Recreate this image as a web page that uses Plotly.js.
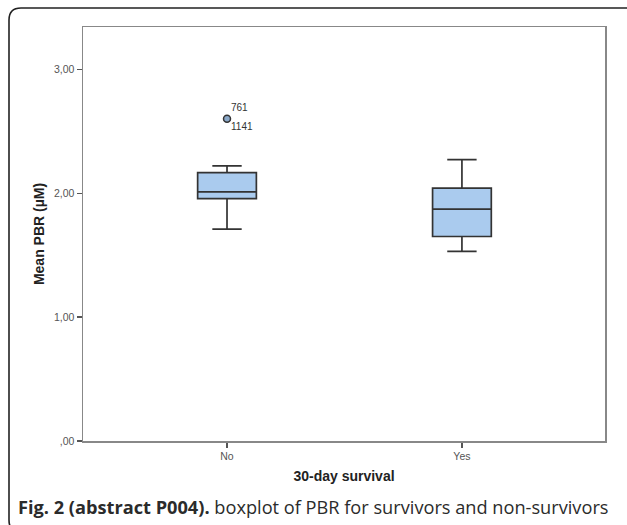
<!DOCTYPE html>
<html>
<head>
<meta charset="utf-8">
<script src="https://cdn.plot.ly/plotly-3.0.1.min.js"></script>
<style>html,body{margin:0;padding:0;background:#fff;}#chart{width:627px;height:525px;}</style>
</head>
<body>
<div id="chart"></div>
<script>
// ---- data ----
const categories = ['No', 'Yes'];
const lowerWhisker = [1.71, 1.53];
const q1 = [1.955, 1.65];
const median = [2.01, 1.87];
const q3 = [2.165, 2.04];
const upperWhisker = [2.22, 2.27];
const outlierCategory = 'No';
const outlierValue = 2.60;
const outlierIds = ['761', '1141'];
const yTickVals = [0, 1, 2, 3];
const yTickText = [',00', '1,00', '2,00', '3,00'];

// ---- layout geometry ----
const W = 627, H = 525;
const M = {l: 83, r: 22, t: 27, b: 84};
const pw = W - M.l - M.r, ph = H - M.t - M.b;
const px = x => (x - M.l) / pw;          // pixel -> paper x
const py = y => (H - M.b - y) / ph;      // pixel -> paper y

const xpos = categories.map((c, i) => i);

// outer rounded frame (path in paper coordinates)
const L = 9, T = 8, R = 640, B = 532, rad = 12;
const framePath =
  `M ${px(L)},${py(B - rad)} L ${px(L)},${py(T + rad)} Q ${px(L)},${py(T)} ${px(L + rad)},${py(T)} ` +
  `L ${px(R - rad)},${py(T)} Q ${px(R)},${py(T)} ${px(R)},${py(T + rad)} ` +
  `L ${px(R)},${py(B - rad)} Q ${px(R)},${py(B)} ${px(R - rad)},${py(B)} ` +
  `L ${px(L + rad)},${py(B)} Q ${px(L)},${py(B)} ${px(L)},${py(B - rad)} Z`;

const boxTrace = {
  type: 'box',
  x: xpos,
  q1: q1, median: median, q3: q3,
  lowerfence: lowerWhisker, upperfence: upperWhisker,
  width: 0.25,
  whiskerwidth: 0.5,
  boxpoints: false,
  fillcolor: '#aacbee',
  line: {color: '#333', width: 1.7},
  hoverinfo: 'skip',
  showlegend: false
};

const outlierX = categories.indexOf(outlierCategory);
const outlierTrace = {
  type: 'scatter', mode: 'markers',
  x: [outlierX], y: [outlierValue],
  marker: {symbol: 'circle', size: 7, color: '#8aa8c8', line: {color: '#333', width: 1.5}},
  cliponaxis: false,
  showlegend: false, hoverinfo: 'skip'
};

const layout = {
  width: W, height: H,
  margin: M,
  paper_bgcolor: '#fff', plot_bgcolor: '#fff',
  font: {family: 'Liberation Sans, Arial, sans-serif', color: '#444', size: 10.5},
  showlegend: false,
  xaxis: {
    range: [-0.613, 1.609],
    tickvals: xpos, ticktext: categories,
    ticks: 'outside', ticklen: 5, tickwidth: 1.2, tickcolor: '#555',
    showline: true, linecolor: '#888', linewidth: 1.5, mirror: true,
    showgrid: false, zeroline: false,
    tickfont: {size: 10.5, color: '#555'},
    title: {text: '<b>30-day survival</b>', font: {size: 14, color: '#222'}, standoff: 10}
  },
  yaxis: {
    range: [0, 3.34],
    tickvals: yTickVals, ticktext: yTickText,
    ticks: 'outside', ticklen: 5, tickwidth: 1.2, tickcolor: '#555',
    showline: true, linecolor: '#888', linewidth: 1.5, mirror: true,
    showgrid: false, zeroline: false,
    tickfont: {size: 10.5, color: '#555'},
    title: {text: '<b>Mean PBR (µM)</b>', font: {size: 14, color: '#222'}, standoff: 6}
  },
  shapes: [{
    type: 'path', xref: 'paper', yref: 'paper', path: framePath,
    line: {color: '#222', width: 1.6}, fillcolor: 'rgba(0,0,0,0)', layer: 'above'
  }],
  annotations: [
    {x: outlierX, y: outlierValue, xref: 'x', yref: 'y', text: outlierIds[0], showarrow: false,
     xanchor: 'left', yanchor: 'middle', xshift: 2, yshift: 11, font: {size: 10, color: '#333'}},
    {x: outlierX, y: outlierValue, xref: 'x', yref: 'y', text: outlierIds[1], showarrow: false,
     xanchor: 'left', yanchor: 'middle', xshift: 2, yshift: -8, font: {size: 10, color: '#333'}},
    {x: px(16), y: py(507), xref: 'paper', yref: 'paper', xanchor: 'left', yanchor: 'middle',
     showarrow: false,
     text: '<b>Fig. 2 (abstract P004).</b> boxplot of PBR for survivors and non-survivors',
     font: {family: 'Open Sans, sans-serif', size: 18.2, color: '#2b2b2b'}}
  ]
};

Plotly.newPlot('chart', [boxTrace, outlierTrace], layout, {staticPlot: true, displayModeBar: false});
</script>
</body>
</html>
